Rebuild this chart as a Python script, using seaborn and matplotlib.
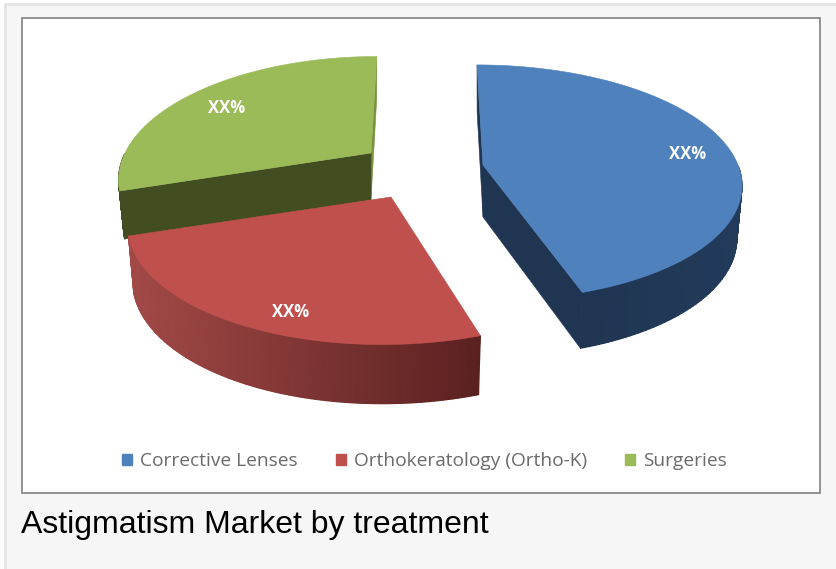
import numpy as np
import matplotlib
matplotlib.use("Agg")
import matplotlib.pyplot as plt
from matplotlib.patches import Patch, Polygon, Rectangle
import seaborn as sns

# Data
categories = ["Corrective Lenses", "Orthokeratology (Ortho-K)", "Surgeries"]
shares = [45, 25, 30]
slice_labels = ["XX%", "XX%", "XX%"]
caption = "Astigmatism Market by treatment"

# Look of each slice
top_colors = ["#4f81bd", "#c0504d", "#9bbb59"]
cut_colors = ["#1f3552", "#7a2f2d", "#434d22"]
wall_left = ["#1f3552", "#a34a47", "#434d22"]
wall_right = ["#233b5b", "#5a2120", "#434d22"]
apex_x = [483, 391, 371]
apex_y = [165, 197, 153]
lean = [0.06, -0.06, -0.06]
rx = [255, 257, 246]
ry = [115, 118.5, 115.5]
tilt = [0.149, 0.197, 0.197]
depth = [52, 55, 47]
label_angle = [82, 201, 304]
label_pos = [0.83, 0.83, 0.8]

DEPTH_TILT, SHRINK = 0.13, 0.98

sns.set_theme(style="white")
plt.rcParams["font.family"] = ["Open Sans", "DejaVu Sans"]

fig = plt.figure(figsize=(8.36, 5.69), dpi=100, facecolor="white")
ax = fig.add_axes([0, 0, 1, 1])
ax.set_xlim(0, 836)
ax.set_ylim(569, 0)
ax.axis("off")

# Page panel and chart frame
ax.add_patch(Rectangle((5, 4), 840, 580, fc="#f6f6f6", ec="#e4e4e4", lw=2))
ax.add_patch(Rectangle((22, 18), 798, 475, fc="white", ec="#8a8a8a", lw=1.3))


def rim_points(i, theta):
    # point on the rim, relative to the apex of the slice
    w = 1 + tilt[i] * np.cos(theta)
    x = rx[i] * np.sin(theta) / w
    y = -ry[i] * np.cos(theta) / w
    return x + lean[i] * y, y


def rim_xy(i, theta):
    x, y = rim_points(i, theta)
    return apex_x[i] + x, apex_y[i] + y


def low_xy(i, theta):
    x, y = rim_points(i, theta)
    d = depth[i] * (1 - DEPTH_TILT * np.cos(theta))
    return apex_x[i] + SHRINK * x, apex_y[i] + SHRINK * y + d


def cut_face(i, theta, color, zorder):
    x0, y0 = rim_xy(i, theta)
    x1, y1 = low_xy(i, theta)
    pts = [(apex_x[i], apex_y[i]), (x0, y0), (x1, y1), (apex_x[i], apex_y[i] + depth[i])]
    ax.add_patch(Polygon(pts, fc=color, ec=color, lw=0.4, zorder=zorder))


edges = np.radians(np.cumsum([0] + shares) / sum(shares) * 360)

for i, z in zip([2, 1, 0], [3, 6, 9]):
    start, end = edges[i], edges[i + 1]
    t = np.linspace(start, end, 160)

    # cut faces
    if i == 0:
        cut_face(i, start, cut_colors[i], z)
        cut_face(i, end, cut_colors[i], z)
    if i == 2:
        cut_face(i, end, "#76923c", z)
        cut_face(i, start, cut_colors[i], z)

    # outer wall, only where it faces the viewer
    front = t[(t > np.pi / 2) & (t < 3 * np.pi / 2)]
    xa, ya = rim_xy(i, front)
    xb, yb = low_xy(i, front)
    X = np.vstack([xa, xb])
    Y = np.vstack([ya, yb])
    C = (X - X.min()) / (X.max() - X.min())
    cmap = sns.blend_palette([wall_left[i], wall_right[i]], as_cmap=True)
    ax.pcolormesh(X, Y, C, cmap=cmap, shading="gouraud", zorder=z)

    # top surface
    xr, yr = rim_xy(i, t)
    pts = np.column_stack([np.r_[apex_x[i], xr], np.r_[apex_y[i], yr]])
    ax.add_patch(Polygon(pts, fc=top_colors[i], ec=top_colors[i], lw=0.4, zorder=z + 1))

    # label
    lx, ly = rim_points(i, np.radians(label_angle[i]))
    ax.text(apex_x[i] + label_pos[i] * lx, apex_y[i] + label_pos[i] * ly + 2, slice_labels[i],
            color="white", fontsize=12, fontweight="bold", ha="center", va="center", zorder=20)

handles = [Patch(color=c, label=n) for c, n in zip(top_colors, categories)]
ax.legend(handles=handles, loc="center", bbox_to_anchor=(424.5 / 836, 1 - 461 / 569), ncols=3,
          frameon=False, fontsize=13.8, labelcolor="#6a6a6a", handlelength=0.52, handleheight=0.52,
          handletextpad=0.42, columnspacing=2.0)

ax.text(21, 525, caption, color="black", fontsize=23, family="Liberation Sans", ha="left", va="center")

fig.savefig("out.png", dpi=100, facecolor="white")
